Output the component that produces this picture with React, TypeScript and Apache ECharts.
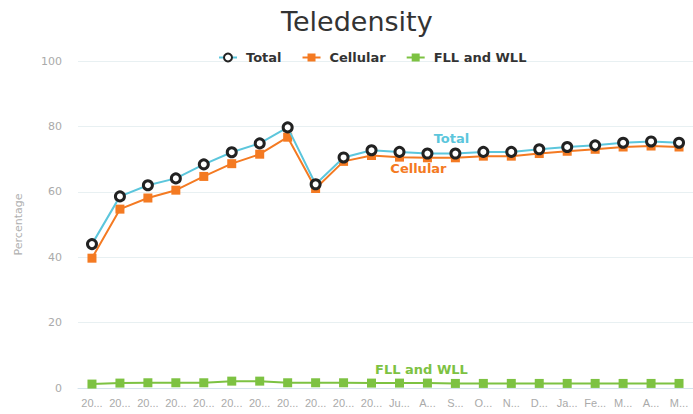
import React, { useEffect, useRef } from "react";
import * as echarts from "echarts";

const categories = [
  "2005-06", "2006-07", "2007-08", "2008-09", "2009-10", "2010-11", "2011-12",
  "2012-13", "2013-14", "2014-15", "2015-16", "Jul-16", "Aug-16", "Sep-16",
  "Oct-16", "Nov-16", "Dec-16", "Jan-17", "Feb-17", "Mar-17", "Apr-17", "May-17",
];
const totalValues = [
  44.0, 58.6, 62.0, 64.1, 68.4, 72.1, 74.8, 79.7, 62.3, 70.5, 72.7,
  72.2, 71.7, 71.7, 72.2, 72.2, 73.0, 73.7, 74.2, 75.0, 75.4, 75.0,
];
const cellularValues = [
  39.7, 54.7, 58.1, 60.5, 64.7, 68.6, 71.5, 76.7, 61.0, 69.3, 71.1,
  70.6, 70.4, 70.4, 70.9, 70.9, 71.7, 72.4, 73.0, 73.7, 74.0, 73.7,
];
const fllValues = [
  1.2, 1.5, 1.6, 1.6, 1.6, 2.1, 2.1, 1.6, 1.6, 1.6, 1.5,
  1.5, 1.5, 1.4, 1.4, 1.4, 1.4, 1.4, 1.4, 1.4, 1.4, 1.4,
];
const yTicks = { min: 0, max: 100, interval: 20 };

const TOTAL_COLOR = "#5cc6dc";
const CELL_COLOR = "#f47a22";
const FLL_COLOR = "#7dc242";

function withLabel(values: number[], idx: number, label: any) {
  return values.map((v, i) => (i === idx ? { value: v, label } : v));
}

export default function App() {
  const ref = useRef<HTMLDivElement>(null);
  useEffect(() => {
    if (!ref.current) return;
    const chart = echarts.init(ref.current, null, { renderer: "svg" });
    const font = "'DejaVu Sans', sans-serif";
    chart.setOption({
      animation: false,
      textStyle: { fontFamily: font },
      title: {
        text: "Teledensity",
        left: 276,
        top: 3,
        textStyle: { fontSize: 27, fontWeight: "normal", color: "#333", fontFamily: font },
      },
      legend: {
        left: 213,
        top: 46,
        itemGap: 20,
        itemWidth: 18,
        itemHeight: 10,
        textStyle: { fontSize: 13, fontWeight: "bold", color: "#333", fontFamily: font, padding: [0, 0, 0, 4] },
        data: ["Total", "Cellular", "FLL and WLL"],
      },
      grid: { left: 78, top: 61, width: 617, height: 327 },
      xAxis: {
        type: "category",
        data: categories,
        boundaryGap: true,
        axisLine: { lineStyle: { color: "#d4e3ec" } },
        axisTick: { lineStyle: { color: "#b9d3e6" }, length: 6 },
        axisLabel: {
          color: "#aaa",
          fontSize: 11,
          fontFamily: "'Liberation Sans', Arial, sans-serif",
          interval: 0,
          width: 23.2,
          overflow: "truncate",
          ellipsis: "...",
          margin: 9,
        },
      },
      yAxis: {
        type: "value",
        min: yTicks.min,
        max: yTicks.max,
        interval: yTicks.interval,
        name: "Percentage",
        nameLocation: "middle",
        nameGap: 54,
        nameTextStyle: { color: "#b0b0b0", fontSize: 11 },
        axisLine: { show: false },
        axisTick: { show: false },
        axisLabel: { color: "#aaa", fontSize: 11, margin: 16 },
        splitLine: { lineStyle: { color: "#e8f0f2", width: 1 } },
      },
      series: [
        {
          name: "Total",
          type: "line",
          data: withLabel(totalValues, 13, {
            show: true,
            position: "top",
            formatter: "Total",
            color: TOTAL_COLOR,
            fontSize: 13,
            fontWeight: "bold",
            offset: [-4, 2],
          }),
          lineStyle: { color: TOTAL_COLOR, width: 2 },
          symbol: "circle",
          symbolSize: 9,
          itemStyle: { color: "#fff", borderColor: "#222", borderWidth: 3 },
          z: 3,
        },
        {
          name: "Cellular",
          type: "line",
          data: withLabel(cellularValues, 12, {
            show: true,
            position: "bottom",
            formatter: "Cellular",
            color: CELL_COLOR,
            fontSize: 13,
            fontWeight: "bold",
            offset: [-9, -5],
          }),
          lineStyle: { color: CELL_COLOR, width: 2 },
          symbol: "rect",
          symbolSize: 9,
          itemStyle: { color: CELL_COLOR },
          z: 2,
        },
        {
          name: "FLL and WLL",
          type: "line",
          data: withLabel(fllValues, 12, {
            show: true,
            position: "top",
            formatter: "FLL and WLL",
            color: FLL_COLOR,
            fontSize: 13,
            fontWeight: "bold",
            offset: [-6, 2],
          }),
          lineStyle: { color: FLL_COLOR, width: 2 },
          symbol: "rect",
          symbolSize: 9,
          itemStyle: { color: FLL_COLOR },
          z: 2,
        },
      ],
    });
    return () => chart.dispose();
  }, []);
  return (
    <div
      ref={ref}
      style={{ position: "fixed", left: 0, top: 0, width: 693, height: 414, background: "#fff" }}
    />
  );
}
